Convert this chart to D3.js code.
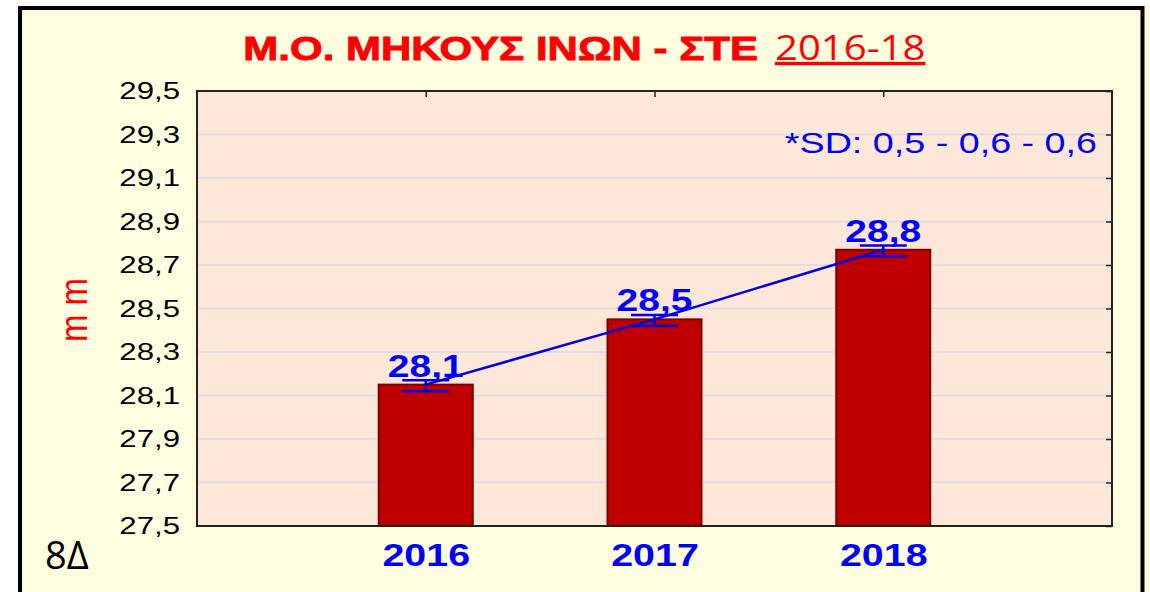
<!DOCTYPE html>
<html>
<head>
<meta charset="utf-8">
<script src="https://cdn.jsdelivr.net/npm/d3@7"></script>
<style>
  html, body { margin: 0; padding: 0; background: #fff; }
  svg { display: block; }
</style>
</head>
<body>
<svg id="chart" width="1150" height="592"></svg>
<script>
// data
const years = ['2016', '2017', '2018'];
const means = [28.15, 28.45, 28.77];
const meanLabels = ['28,1', '28,5', '28,8'];
const errLow = [28.12, 28.42, 28.74];
const errHigh = [28.17, 28.47, 28.79];
const yTicks = [27.5, 27.7, 27.9, 28.1, 28.3, 28.5, 28.7, 28.9, 29.1, 29.3, 29.5];
const titleBold = 'Μ.Ο. ΜΗΚΟΥΣ ΙΝΩΝ - ΣΤΕ';
const titleYears = '2016-18';
const sdNote = '*SD: 0,5 - 0,6 - 0,6';

const W = 1150, H = 592;
const SANS = 'Liberation Sans, Arial, sans-serif';
const svg = d3.select('#chart');
const m = { top: 91, right: 38, bottom: 66, left: 197 };
const w = W - m.left - m.right;
const h = H - m.top - m.bottom;

// the original picture is stretched sideways, so text is too
function placeText(sel, x, y, sx) {
  return sel.attr('transform', `translate(${x},${y}) scale(${sx},1)`);
}

// frame
svg.append('rect').attr('x', 0).attr('y', 0).attr('width', W).attr('height', H).attr('fill', '#fffde0');
svg.append('rect').attr('x', 0).attr('y', 0).attr('width', 18).attr('height', H).attr('fill', '#fff');
svg.append('rect').attr('x', 0).attr('y', 0).attr('width', W).attr('height', 6).attr('fill', '#fff');
svg.append('rect').attr('x', 20).attr('y', 8).attr('width', 1122.5).attr('height', H + 10)
  .attr('fill', 'none').attr('stroke', '#000').attr('stroke-width', 4);

const g = svg.append('g').attr('transform', `translate(${m.left},${m.top})`);

const x = d3.scaleLinear().domain([0, 4]).range([0, w]);
const y = d3.scaleLinear().domain([27.5, 29.5]).range([h, 0]);
const fmt = d => d.toFixed(1).replace('.', ',');

g.append('rect').attr('width', w).attr('height', h).attr('fill', '#fce7d9');

// gridlines
g.append('g').selectAll('line').data(yTicks.slice(1, -1)).join('line')
  .attr('x1', 0).attr('x2', w)
  .attr('y1', d => y(d)).attr('y2', d => y(d))
  .attr('stroke', '#d4dce6').attr('stroke-width', 1.5);

// bars
const barW = 94;
g.selectAll('rect.bar').data(years).join('rect')
  .attr('class', 'bar')
  .attr('x', (d, i) => x(i + 1) - barW / 2)
  .attr('y', (d, i) => y(means[i]))
  .attr('width', barW)
  .attr('height', (d, i) => h - y(means[i]))
  .attr('fill', '#c00000')
  .attr('stroke', '#7a0000').attr('stroke-width', 2);

// error bars
const capW = 47;
const eb = g.append('g').attr('stroke', '#0000e0').attr('stroke-width', 2.5);
years.forEach((d, i) => {
  const cx = x(i + 1);
  eb.append('line').attr('x1', cx).attr('x2', cx).attr('y1', y(errHigh[i])).attr('y2', y(errLow[i]));
  eb.append('line').attr('x1', cx - capW / 2).attr('x2', cx + capW / 2).attr('y1', y(errHigh[i])).attr('y2', y(errHigh[i]));
  eb.append('line').attr('x1', cx - capW / 2).attr('x2', cx + capW / 2).attr('y1', y(errLow[i])).attr('y2', y(errLow[i]));
});

// mean line
g.append('path').datum(means)
  .attr('fill', 'none').attr('stroke', '#0000e0').attr('stroke-width', 2.5)
  .attr('d', d3.line().x((d, i) => x(i + 1)).y(d => y(d)));

// value labels
g.selectAll('text.val').data(meanLabels).join('text')
  .attr('class', 'val')
  .each(function (d, i) { placeText(d3.select(this), x(i + 1), y(means[i]) - 8, 1.26); })
  .attr('text-anchor', 'middle')
  .attr('font-family', SANS)
  .attr('font-weight', 'bold').attr('font-size', 31)
  .attr('fill', '#0000ff')
  .text(d => d);

// plot border
g.append('rect').attr('width', w).attr('height', h)
  .attr('fill', 'none').attr('stroke', '#222').attr('stroke-width', 2);

// axes
const yAxis = g.append('g')
  .call(d3.axisLeft(y).tickValues(yTicks).tickSize(0).tickFormat(fmt));
yAxis.select('.domain').remove();
yAxis.selectAll('text')
  .attr('x', -17 / 1.3)
  .attr('transform', 'scale(1.3,1)')
  .attr('font-family', SANS)
  .attr('font-size', 24).attr('fill', '#000');

const yAxisR = g.append('g').attr('transform', `translate(${w},0)`)
  .call(d3.axisLeft(y).tickValues(yTicks).tickSize(6).tickFormat(''));
yAxisR.select('.domain').remove();
yAxisR.selectAll('line').attr('stroke', '#222').attr('stroke-width', 1.5);

const xTop = g.append('g')
  .call(d3.axisBottom(x).tickValues([1, 2, 3]).tickSize(6).tickFormat(''));
xTop.select('.domain').remove();
xTop.selectAll('line').attr('stroke', '#222').attr('stroke-width', 1.5);

const xAxis = g.append('g').attr('transform', `translate(0,${h})`)
  .call(d3.axisBottom(x).tickValues([1, 2, 3]).tickSize(0).tickPadding(18).tickFormat(d => years[d - 1]));
xAxis.select('.domain').remove();
xAxis.selectAll('text')
  .attr('transform', 'scale(1.27,1)')
  .attr('font-family', SANS)
  .attr('font-weight', 'bold').attr('font-size', 31).attr('fill', '#0000ff');

// title
placeText(svg.append('text'), 758, 60, 1.235)
  .attr('text-anchor', 'end')
  .attr('font-family', SANS)
  .attr('font-weight', 'bold').attr('font-size', 34)
  .attr('fill', '#ff0000')
  .attr('stroke', '#ff0000').attr('stroke-width', 0.9)
  .text(titleBold);
placeText(svg.append('text'), 775, 60, 1.18)
  .attr('font-family', 'Open Sans, sans-serif')
  .attr('font-size', 34).attr('text-decoration', 'underline')
  .attr('fill', '#ff0000')
  .text(titleYears);

// y label
svg.append('text')
  .attr('transform', 'translate(87,310) rotate(-90) scale(1,1.2)')
  .attr('text-anchor', 'middle')
  .attr('font-family', SANS)
  .attr('font-size', 33).attr('fill', '#ff0000')
  .text('m m');

// sd note
placeText(svg.append('text'), 1097, 153, 1.3)
  .attr('text-anchor', 'end')
  .attr('font-family', SANS)
  .attr('font-size', 29).attr('fill', '#0000ff')
  .text(sdNote);

// corner tag
svg.append('text').attr('x', 45).attr('y', 569)
  .attr('font-family', 'Open Sans, sans-serif')
  .attr('font-size', 38).attr('fill', '#000')
  .text('8Δ');
</script>
</body>
</html>
